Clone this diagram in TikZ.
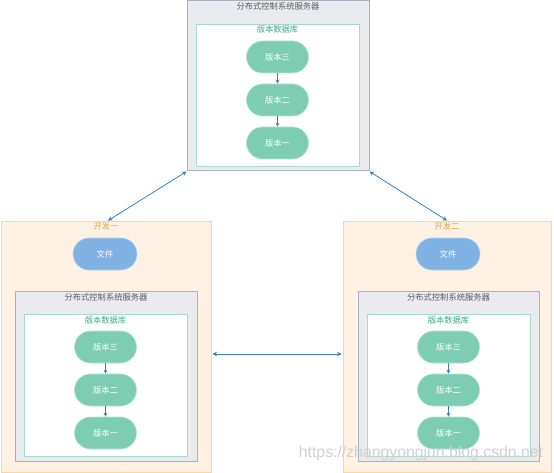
\documentclass[tikz,border=0pt]{standalone}
\usepackage{fontspec}
\newfontfamily\cjk{Noto Sans CJK SC}
\newfontfamily\wmfont{Liberation Sans}
\usetikzlibrary{arrows.meta,positioning}

\definecolor{devfill}{HTML}{FFF2E5}
\definecolor{devline}{HTML}{FFD39E}
\definecolor{devtext}{HTML}{E6A43F}
\definecolor{srvfill}{HTML}{E9EBEF}
\definecolor{srvline}{HTML}{A9B1C0}
\definecolor{srvtext}{HTML}{5A5A5A}
\definecolor{dbline}{HTML}{A5DCCB}
\definecolor{dbtext}{HTML}{3EA889}
\definecolor{vergreen}{HTML}{7DCDB3}
\definecolor{verline}{HTML}{B3E4D4}
\definecolor{fileblue}{HTML}{80B2E3}
\definecolor{fileline}{HTML}{B5D2EF}
\definecolor{linkblue}{HTML}{3C80B8}

\tikzset{
  devbox/.style={draw=devline, fill=devfill, line width=0.8pt, minimum width=210pt, minimum height=251pt, inner sep=0pt},
  srvbox/.style={draw=srvline, fill=srvfill, line width=1pt, minimum width=182pt, minimum height=170pt, inner sep=0pt},
  dbbox/.style={draw=dbline, fill=white, line width=0.8pt, minimum width=163pt, minimum height=142pt, inner sep=0pt},
  verbox/.style={draw=verline, fill=vergreen, line width=0.6pt, rounded corners=16pt, minimum width=62pt, minimum height=32pt, inner sep=0pt, text=white, font=\cjk\fontsize{8.3}{9}\selectfont},
  filebox/.style={verbox, draw=fileline, fill=fileblue, minimum width=64pt},
  boxtitle/.style={inner sep=0pt, font=\cjk\fontsize{8.3}{9}\selectfont},
  verlink/.style={draw=linkblue, line width=0.7pt, -{Stealth[length=4pt,width=4pt]}},
  synclink/.style={draw=linkblue, line width=0.8pt, {Stealth[length=4.5pt,width=4.5pt]}-{Stealth[length=4.5pt,width=4.5pt]}}
}

\begin{document}
\begin{tikzpicture}[x=1pt,y=-1pt]
  \useasboundingbox (0,0) rectangle (554,473);

  % central server
  \node[srvbox] (srvT) at (278,86) {};
  \node[boxtitle, text=srvtext] (srvTt) at ([yshift=-6pt]srvT.north) {分布式控制系统服务器};
  \node[dbbox] (dbT) at (277.5,95) {};
  \node[boxtitle, text=dbtext] (dbTt) at ([yshift=-6pt]dbT.north) {版本数据库};
  \node[verbox] (v3T) at (277.5,57) {版本三};
  \node[verbox] (v2T) at (277.5,100) {版本二};
  \node[verbox] (v1T) at (277.5,143) {版本一};
  \draw[verlink] (v3T) -- (v2T);
  \draw[verlink] (v2T) -- (v1T);

  % developer one
  \node[devbox] (devA) at (106,346.5) {};
  \node[boxtitle, text=devtext] (devAt) at ([yshift=-6pt]devA.north) {开发一};
  \node[filebox] (fileA) at (105,254) {文件};
  \node[srvbox] (srvA) at (106,376) {};
  \node[boxtitle, text=srvtext] (srvAt) at ([yshift=-7pt]srvA.north) {分布式控制系统服务器};
  \node[dbbox] (dbA) at (105.5,385) {};
  \node[boxtitle, text=dbtext] (dbAt) at ([yshift=-7pt]dbA.north) {版本数据库};
  \node[verbox] (v3A) at (105.5,347) {版本三};
  \node[verbox] (v2A) at (105.5,390) {版本二};
  \node[verbox] (v1A) at (105.5,433) {版本一};
  \draw[verlink] (v3A) -- (v2A);
  \draw[verlink] (v2A) -- (v1A);

  % developer two
  \node[devbox, minimum width=208pt] (devB) at (447,346.5) {};
  \node[boxtitle, text=devtext] (devBt) at ([yshift=-6pt]devB.north) {开发二};
  \node[filebox] (fileB) at (448,254) {文件};
  \node[srvbox, minimum width=181pt] (srvB) at (448.5,376) {};
  \node[boxtitle, text=srvtext] (srvBt) at ([yshift=-7pt]srvB.north) {分布式控制系统服务器};
  \node[dbbox] (dbB) at (448.5,385) {};
  \node[boxtitle, text=dbtext] (dbBt) at ([yshift=-7pt]dbB.north) {版本数据库};
  \node[verbox] (v3B) at (448.5,347) {版本三};
  \node[verbox] (v2B) at (448.5,390) {版本二};
  \node[verbox] (v1B) at (448.5,433) {版本一};
  \draw[verlink] (v3B) -- (v2B);
  \draw[verlink] (v2B) -- (v1B);

  % sync links
  \draw[synclink] (srvT.south west) -- ([xshift=2pt]devA.north);
  \draw[synclink] (srvT.south east) -- (devB.north);
  \draw[synclink] ([xshift=1pt,yshift=-7.5pt]devA.east) -- ([xshift=-1pt,yshift=-7.5pt]devB.west);

  \node[text=black!18, font=\wmfont\fontsize{15.8}{16}\selectfont, inner sep=0pt] (wm) at (421,453) {https://zhangyongjun.blog.csdn.net};
\end{tikzpicture}
\end{document}
